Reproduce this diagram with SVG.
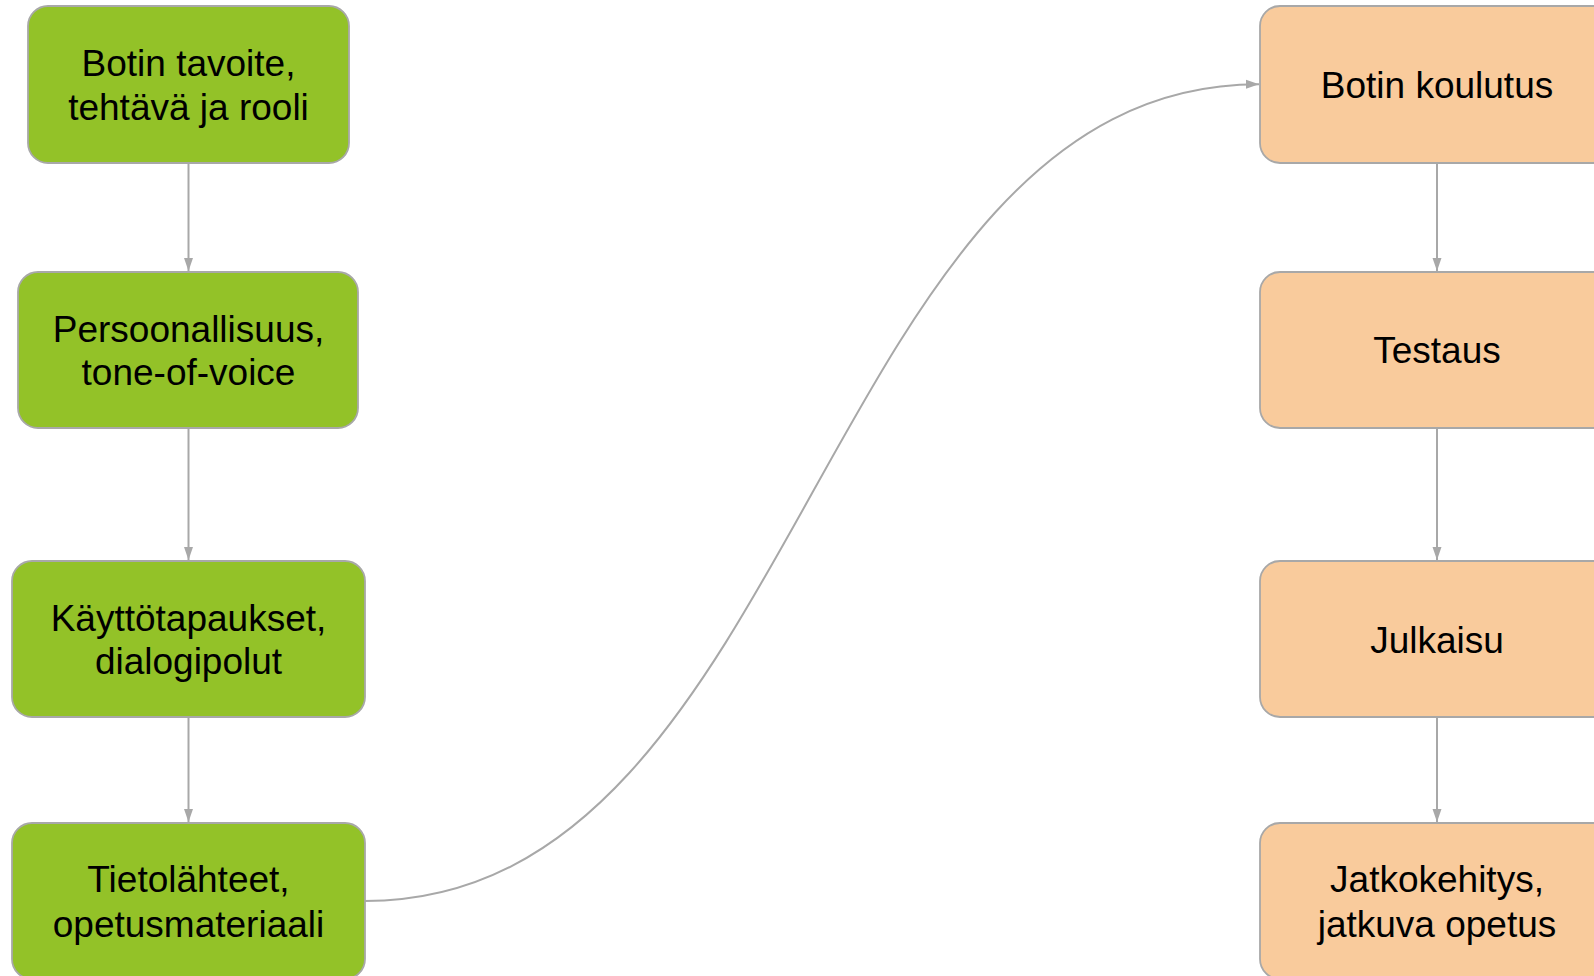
<svg xmlns="http://www.w3.org/2000/svg" width="1594" height="976" viewBox="0 0 1594 976">
<defs>
<style>
.n rect{stroke:#a8a8a8;stroke-width:1.8}
.g rect{fill:#93c228}
.o rect{fill:#f9cb9c}
text{font-family:"Liberation Sans",Arial,sans-serif;font-size:37px;fill:#000;text-anchor:middle}
.c{fill:none;stroke:#a8a8a8;stroke-width:2}
</style>
<marker id="ah" markerUnits="userSpaceOnUse" markerWidth="14" markerHeight="10" refX="13" refY="5" orient="auto">
<path d="M0,0.5 L13,5 L0,9.5 Z" fill="#a8a8a8"/>
</marker>
</defs>
<rect width="1594" height="976" fill="#fff"/>
<g id="connectors">
<path class="c" d="M188.5,163 V271" marker-end="url(#ah)"/>
<path class="c" d="M188.5,428 V560" marker-end="url(#ah)"/>
<path class="c" d="M188.5,717 V822" marker-end="url(#ah)"/>
<path class="c" d="M1437,163 V271" marker-end="url(#ah)"/>
<path class="c" d="M1437,428 V560" marker-end="url(#ah)"/>
<path class="c" d="M1437,717 V822" marker-end="url(#ah)"/>
<path class="c" d="M365,901 C806,901 819,84.3 1259,84.3" marker-end="url(#ah)"/>
</g>
<g id="n1" class="n g"><rect x="28" y="6" width="321" height="157" rx="20"/><text x="188.5" y="76">Botin tavoite,</text><text x="188.5" y="119.5">tehtävä ja rooli</text></g>
<g id="n2" class="n g"><rect x="18" y="272" width="340" height="156" rx="20"/><text x="188.5" y="341.5">Persoonallisuus,</text><text x="188.5" y="385">tone-of-voice</text></g>
<g id="n3" class="n g"><rect x="12" y="561" width="353" height="156" rx="20"/><text x="188.5" y="630.5">Käyttötapaukset,</text><text x="188.5" y="674">dialogipolut</text></g>
<g id="n4" class="n g"><rect x="12" y="823" width="353" height="156" rx="20"/><text x="188.5" y="892">Tietolähteet,</text><text x="188.5" y="936.5">opetusmateriaali</text></g>
<g id="r1" class="n o"><rect x="1260" y="6" width="354" height="157" rx="20"/><text x="1437" y="98">Botin koulutus</text></g>
<g id="r2" class="n o"><rect x="1260" y="272" width="354" height="156" rx="20"/><text x="1437" y="363">Testaus</text></g>
<g id="r3" class="n o"><rect x="1260" y="561" width="354" height="156" rx="20"/><text x="1437" y="652.5">Julkaisu</text></g>
<g id="r4" class="n o"><rect x="1260" y="823" width="354" height="156" rx="20"/><text x="1437" y="892">Jatkokehitys,</text><text x="1437" y="936.5">jatkuva opetus</text></g>
</svg>
